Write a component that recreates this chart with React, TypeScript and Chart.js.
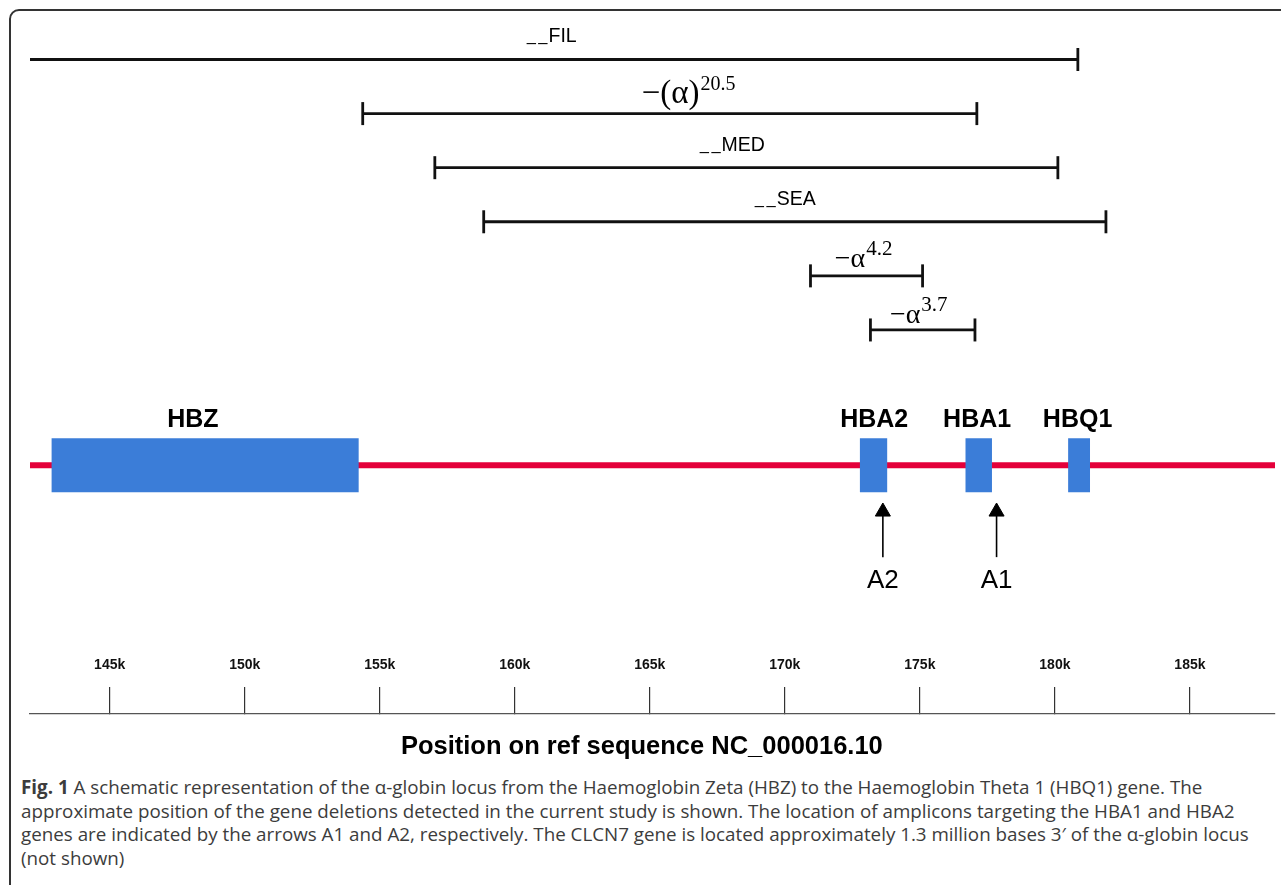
import React, { useEffect, useRef } from 'react';
import { Chart, registerables } from 'chart.js';

Chart.register(...registerables);

// ---- axis (positions in kb on NC_000016.10) ----
const X_MIN = 142.05;
const X_MAX = 188.15;
const TICK_VALUES = [145, 150, 155, 160, 165, 170, 175, 180, 185];

// ---- deletions ----
const DELETION_NAMES = ['FIL', '20.5', 'MED', 'SEA', '4.2', '3.7'];
const DELETION_START = [141.5, 154.37, 157.04, 158.85, 170.95, 173.17];
const DELETION_END = [180.85, 177.11, 180.11, 181.89, 175.1, 177.04];
const DELETION_LANE = [0, 1, 2, 3, 4, 5];
const DELETION_LABEL_AT = [160.44, 164.7, 166.85, 168.89, 171.85, 173.89];

// ---- genes ----
const GENE_NAMES = ['HBZ', 'HBA2', 'HBA1', 'HBQ1'];
const GENE_START = [142.85, 172.78, 176.69, 180.49];
const GENE_END = [154.22, 173.79, 177.67, 181.3];
const GENE_LABEL_AT = [148.08, 173.31, 177.12, 180.84];
const GENE_TRACK = 7.5;

// ---- amplicons ----
const AMPLICON_NAMES = ['A2', 'A1'];
const AMPLICON_AT = [173.63, 177.84];
const ARROW_FROM = 9.2;
const ARROW_TO = 8.36;

const SANS = '"Liberation Sans", Arial, sans-serif';
const SERIF = '"Liberation Serif", "Times New Roman", serif';

type Seg = { text: string; font: string; dy?: number; gap?: number; sx?: number };

function deletionLabel(name: string): { segs: Seg[]; offset: number } {
  if (/^[A-Z]+$/.test(name)) {
    return {
      offset: name === 'FIL' ? -18 : -17,
      segs: [
        { text: '_', font: `bold 30px ${SANS}`, sx: 0.55, gap: 2.5, dy: -1 },
        { text: '_', font: `bold 30px ${SANS}`, sx: 0.55, gap: 1, dy: -1 },
        { text: name, font: `19.5px ${SANS}` },
      ],
    };
  }
  if (name === '20.5') {
    return {
      offset: -11,
      segs: [
        { text: '\u2212(\u03b1)', font: `33px ${SERIF}`, gap: 1 },
        { text: name, font: `20px ${SERIF}`, dy: -13 },
      ],
    };
  }
  return {
    offset: name === '4.2' ? -9 : -7,
    segs: [
      { text: '\u2212\u03b1', font: `28px ${SERIF}`, gap: 1 },
      { text: name, font: `21px ${SERIF}`, dy: -12 },
    ],
  };
}

const annotationPlugin = {
  id: 'annotations',
  afterDatasetsDraw(chart: any) {
    const { ctx } = chart;
    const x = chart.scales.x;
    const y = chart.scales.y;
    ctx.save();
    ctx.fillStyle = '#000';
    ctx.textBaseline = 'alphabetic';
    ctx.textAlign = 'left';
    DELETION_NAMES.forEach((name, i) => {
      const spec = deletionLabel(name);
      let px = x.getPixelForValue(DELETION_LABEL_AT[i]);
      const py = y.getPixelForValue(DELETION_LANE[i]) + spec.offset;
      spec.segs.forEach((s) => {
        ctx.font = s.font;
        const sx = s.sx || 1;
        ctx.save();
        ctx.translate(px, py + (s.dy || 0));
        ctx.scale(sx, 1);
        ctx.fillText(s.text, 0, 0);
        ctx.restore();
        px += ctx.measureText(s.text).width * sx + (s.gap || 0);
      });
    });
    ctx.textAlign = 'center';
    ctx.font = `bold 25px ${SANS}`;
    GENE_NAMES.forEach((g, i) => {
      ctx.fillText(g, x.getPixelForValue(GENE_LABEL_AT[i]), y.getPixelForValue(GENE_TRACK) - 38);
    });
    ctx.font = `26px ${SANS}`;
    AMPLICON_NAMES.forEach((a, i) => {
      ctx.fillText(a, x.getPixelForValue(AMPLICON_AT[i]), y.getPixelForValue(ARROW_FROM) + 31);
    });
    ctx.restore();
  },
};

function buildDatasets() {
  const ds: any[] = [];
  ds.push({
    label: 'locus',
    data: [
      { x: X_MIN, y: GENE_TRACK },
      { x: X_MAX, y: GENE_TRACK },
    ],
    borderColor: '#e4003a',
    borderWidth: 6,
    borderCapStyle: 'butt',
    pointRadius: 0,
    order: 3,
  });
  GENE_NAMES.forEach((g, i) =>
    ds.push({
      label: g,
      data: [
        { x: GENE_START[i], y: GENE_TRACK },
        { x: GENE_END[i], y: GENE_TRACK },
      ],
      borderColor: '#3b7dd8',
      borderWidth: 54,
      borderCapStyle: 'butt',
      pointRadius: 0,
      order: 2,
    })
  );
  DELETION_NAMES.forEach((d, i) =>
    ds.push({
      label: d,
      data: [
        { x: DELETION_START[i], y: DELETION_LANE[i] },
        { x: DELETION_END[i], y: DELETION_LANE[i] },
      ],
      borderColor: '#111',
      borderWidth: 2.8,
      pointStyle: 'line',
      pointRadius: 11.5,
      pointRotation: 90,
      pointBorderColor: '#111',
      pointBorderWidth: 2.8,
      order: 1,
    })
  );
  AMPLICON_NAMES.forEach((a, i) =>
    ds.push({
      label: a,
      data: [
        { x: AMPLICON_AT[i], y: ARROW_FROM },
        { x: AMPLICON_AT[i], y: ARROW_TO },
      ],
      borderColor: '#000',
      borderWidth: 1.6,
      pointStyle: 'triangle',
      pointRadius: [0, 8.7],
      pointBackgroundColor: '#000',
      pointBorderColor: '#000',
      pointBorderWidth: 1,
      order: 1,
    })
  );
  return ds;
}

export default function App() {
  const ref = useRef<HTMLCanvasElement>(null);

  useEffect(() => {
    if (!ref.current) return;
    const chart = new Chart(ref.current, {
      type: 'line',
      data: { datasets: buildDatasets() },
      options: {
        animation: false,
        responsive: false,
        events: [],
        layout: { autoPadding: false, padding: { left: 30, right: 6, top: 0, bottom: 0 } },
        plugins: { legend: { display: false }, tooltip: { enabled: false } },
        scales: {
          x: {
            type: 'linear',
            position: 'bottom',
            min: X_MIN,
            max: X_MAX,
            afterBuildTicks: (scale: any) => {
              scale.ticks = TICK_VALUES.map((v) => ({ value: v }));
            },
            afterFit: (scale: any) => {
              scale.height = 56;
            },
            ticks: {
              callback: (v: any) => `${v}k`,
              font: { family: SANS, size: 14, weight: 'bold' },
              color: '#111',
              mirror: true,
              padding: 40,
              maxRotation: 0,
              autoSkip: false,
            },
            grid: {
              display: true,
              drawOnChartArea: false,
              drawTicks: true,
              tickLength: -27,
              color: '#333',
              lineWidth: 1.2,
            },
            border: { display: true, color: '#555', width: 1.2 },
            title: {
              display: true,
              text: 'Position on ref sequence NC_000016.10   ',
              font: { family: SANS, size: 25.5, weight: 'bold' },
              color: '#000',
              padding: { top: 0, bottom: 8 },
            },
          },
          y: {
            type: 'linear',
            display: false,
            reverse: true,
            min: -1.1,
            max: 12.1,
          },
        },
      } as any,
      plugins: [annotationPlugin as any],
    });
    return () => chart.destroy();
  }, []);

  const captionStyle: React.CSSProperties = {
    position: 'absolute',
    left: 21,
    top: 776,
    fontFamily: '"Open Sans", "Noto Sans", sans-serif',
    fontSize: 18.8,
    lineHeight: '23.5px',
    color: '#3c3c3c',
    whiteSpace: 'pre',
  };

  return (
    <div
      style={{
        position: 'fixed',
        left: 0,
        top: 0,
        width: 1281,
        height: 885,
        overflow: 'hidden',
        background: '#fff',
      }}
    >
      <div
        style={{
          position: 'absolute',
          left: 9,
          top: 9,
          width: 1400,
          height: 1000,
          border: '2px solid #333',
          borderRadius: 10,
        }}
      />
      <canvas ref={ref} width={1281} height={770} style={{ position: 'absolute', left: 0, top: 0 }} />
      <div style={captionStyle}>
        <b>Fig. 1</b>
        {' A schematic representation of the \u03b1-globin locus from the Haemoglobin Zeta (HBZ) to the Haemoglobin Theta 1 (HBQ1) gene. The\n'}
        {'approximate position of the gene deletions detected in the current study is shown. The location of amplicons targeting the HBA1 and HBA2\n'}
        {'genes are indicated by the arrows A1 and A2, respectively. The CLCN7 gene is located approximately 1.3 million bases 3\u2032 of the \u03b1-globin locus\n'}
        {'(not shown)'}
      </div>
    </div>
  );
}
